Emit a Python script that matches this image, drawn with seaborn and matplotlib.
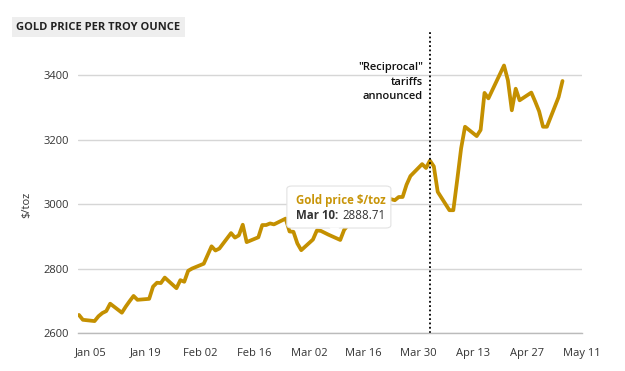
import matplotlib
matplotlib.use('Agg')
import matplotlib.pyplot as plt
import seaborn as sns
import pandas as pd
from matplotlib.patches import FancyBboxPatch, Polygon

# daily gold price
dates = ['2025-01-02', '2025-01-03', '2025-01-06', '2025-01-07', '2025-01-08', '2025-01-09',
         '2025-01-10', '2025-01-13', '2025-01-14', '2025-01-15', '2025-01-16', '2025-01-17',
         '2025-01-20', '2025-01-21', '2025-01-22', '2025-01-23', '2025-01-24', '2025-01-27',
         '2025-01-28', '2025-01-29', '2025-01-30', '2025-01-31', '2025-02-03', '2025-02-04',
         '2025-02-05', '2025-02-06', '2025-02-07', '2025-02-10', '2025-02-11', '2025-02-12',
         '2025-02-13', '2025-02-14', '2025-02-17', '2025-02-18', '2025-02-19', '2025-02-20',
         '2025-02-21', '2025-02-24', '2025-02-25', '2025-02-26', '2025-02-27', '2025-02-28',
         '2025-03-03', '2025-03-04', '2025-03-05', '2025-03-06', '2025-03-07', '2025-03-10',
         '2025-03-11', '2025-03-12', '2025-03-13', '2025-03-14', '2025-03-17', '2025-03-18',
         '2025-03-19', '2025-03-20', '2025-03-21', '2025-03-24', '2025-03-25', '2025-03-26',
         '2025-03-27', '2025-03-28', '2025-03-31', '2025-04-01', '2025-04-02', '2025-04-03',
         '2025-04-04', '2025-04-07', '2025-04-08', '2025-04-09', '2025-04-10', '2025-04-11',
         '2025-04-14', '2025-04-15', '2025-04-16', '2025-04-17', '2025-04-21', '2025-04-22',
         '2025-04-23', '2025-04-24', '2025-04-25', '2025-04-28', '2025-04-29', '2025-04-30',
         '2025-05-01', '2025-05-02', '2025-05-05', '2025-05-06']
prices = [2656, 2641, 2637, 2652, 2662, 2668,
          2691, 2663, 2682, 2699, 2715, 2703,
          2706, 2744, 2756, 2755, 2772, 2739,
          2764, 2759, 2793, 2800, 2815, 2842,
          2869, 2856, 2862, 2910, 2896, 2903,
          2936, 2882, 2897, 2935, 2935, 2940,
          2937, 2955, 2915, 2914, 2878, 2857,
          2890, 2918, 2917, 2911, 2905, 2888.71,
          2920, 2935, 2985, 2985, 3000, 3030,
          3040, 3038, 3022, 3012, 3022, 3022,
          3060, 3087, 3124, 3112, 3135, 3117,
          3038, 2981, 2981, 3075, 3173, 3240,
          3211, 3230, 3345, 3328, 3430, 3384,
          3291, 3358, 3322, 3346, 3318, 3288,
          3240, 3240, 3332, 3382]

tick_dates = pd.date_range('2025-01-05', '2025-05-11', freq='7D')
tariff_date = pd.Timestamp('2025-04-02')

df = pd.DataFrame({'date': pd.to_datetime(dates), 'price': prices})

gold = '#c49000'
sns.set_theme(style='white')
plt.rcParams['font.family'] = ['Open Sans', 'DejaVu Sans']

fig = plt.figure(figsize=(6.25, 3.71), dpi=100)
ax = fig.add_axes([0.1248, 0.1024, 0.8064, 0.8166])

sns.lineplot(data=df, x='date', y='price', color=gold, linewidth=2.7, ax=ax)

ax.set_xlim(pd.Timestamp('2025-01-01 18:00'), pd.Timestamp('2025-05-11'))
ax.set_ylim(2600, 3540)
ax.set_yticks([2600, 2800, 3000, 3200, 3400])
ax.yaxis.grid(True, color='#d6d6d6', linewidth=1)
ax.xaxis.grid(False)
for s in ['top', 'right', 'left']:
    ax.spines[s].set_visible(False)
ax.spines['bottom'].set_color('#bbbbbb')
ax.spines['bottom'].set_linewidth(1)

ax.set_xticks(tick_dates)
ax.set_xticklabels([d.strftime('%b %d') if i % 2 == 0 else '' for i, d in enumerate(tick_dates)])
ax.tick_params(axis='x', length=8.5, width=1, color='#bbbbbb', labelsize=8, labelcolor='#333333', pad=2)
ax.tick_params(axis='y', length=0, labelsize=8, labelcolor='#333333', pad=6.5)
ax.set_xlabel('')
ax.set_ylabel('')

ax.axvline(tariff_date, color='black', linestyle=(0, (1, 1.4)), linewidth=1.3, clip_on=False)
ax.annotate('"Reciprocal"\ntariffs\nannounced', xy=(tariff_date, 1), xycoords=('data', 'axes fraction'),
            xytext=(-5, -23), textcoords='offset points', ha='right', va='top',
            fontsize=8, fontweight='semibold', color='#111111', linespacing=1.45)

fig.text(0.0432, 0.447, '$/toz', rotation=90, ha='center', va='center', fontsize=8, color='#333333')

fig.text(0.026, 0.927, 'GOLD PRICE PER TROY OUNCE', ha='left', va='center', fontsize=8,
         fontweight='bold', color='#222222',
         bbox=dict(boxstyle='square,pad=0.42', facecolor='#eeeeee', edgecolor='none'))

# tooltip
box = FancyBboxPatch((0.459, 0.3854), 0.1664, 0.1132, boxstyle='round,pad=0,rounding_size=0.008',
                     transform=fig.transFigure, facecolor='white', edgecolor='#e2e2e2',
                     linewidth=0.8, zorder=5)
fig.patches.append(box)
tri = Polygon([[0.527, 0.3870], [0.5435, 0.3870], [0.5352, 0.3670]], closed=True,
              transform=fig.transFigure, facecolor='white', edgecolor='none', zorder=6)
fig.patches.append(tri)
fig.text(0.4736, 0.4609, 'Gold price $/toz', ha='left', va='center', fontsize=8.3,
         fontweight='bold', color='#c8950a', zorder=7)
lab = fig.text(0.4736, 0.4178, 'Mar 10:', ha='left', va='center', fontsize=8.3,
               fontweight='bold', color='#333333', zorder=7)
fig.canvas.draw()
bb = lab.get_window_extent().transformed(fig.transFigure.inverted())
fig.text(bb.x1 + 0.006, 0.4178, '2888.71', ha='left', va='center', fontsize=8.3,
         color='#333333', zorder=7)

plt.savefig('out.png', dpi=100)
